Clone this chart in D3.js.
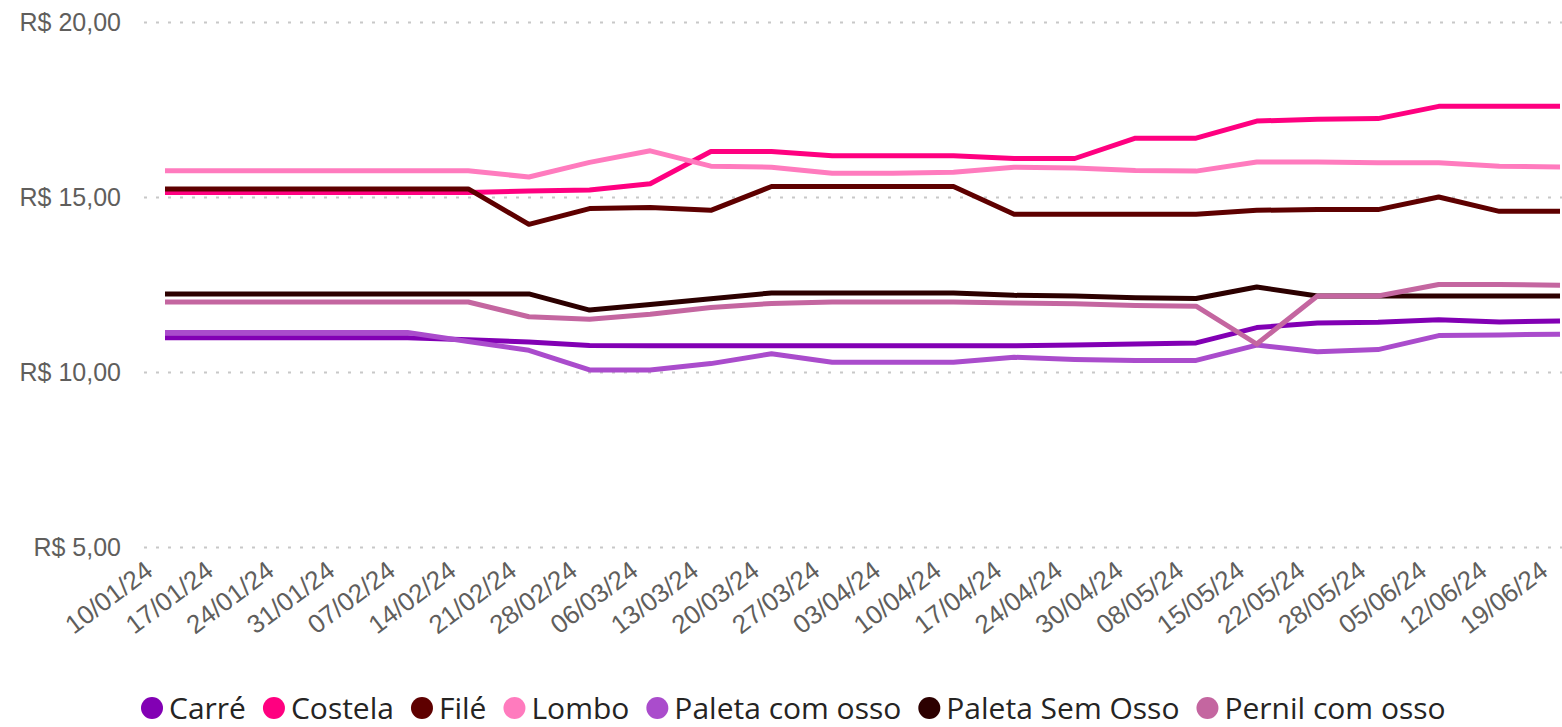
<!DOCTYPE html>
<html>
<head>
 <meta charset="UTF-8">
 <title>Preços por corte</title>
 <script src="https://cdn.jsdelivr.net/npm/d3@7"></script>
 <style>
body {
  margin: 0;
  background: #fff;
}
svg {
  display: block;
  font-family: "Open Sans", sans-serif;
}
.grid line {
  stroke: #c8c8c8;
  stroke-width: 2px;
  stroke-dasharray: 3 9;
}
.yaxis text {
  fill: #605e5c;
  font-size: 25px;
}
.xaxis text {
  fill: #605e5c;
  font-size: 26px;
}
.serie {
  fill: none;
  stroke-width: 5px;
  stroke-linejoin: round;
}
.legend text {
  fill: #252423;
  font-size: 30px;
}
 </style>
</head>
<body>
<svg id="chart"></svg>
<script>
// datas (semanas)
var datas = ["10/01/24","17/01/24","24/01/24","31/01/24","07/02/24","14/02/24","21/02/24","28/02/24",
  "06/03/24","13/03/24","20/03/24","27/03/24","03/04/24","10/04/24","17/04/24","24/04/24",
  "30/04/24","08/05/24","15/05/24","22/05/24","28/05/24","05/06/24","12/06/24","19/06/24"];

var cortes = ["Carré", "Costela", "Filé", "Lombo", "Paleta com osso", "Paleta Sem Osso", "Pernil com osso"];
var cores = ["#8200b4", "#ff0080", "#5e0000", "#ff7bbe", "#aa4ccc", "#2c0000", "#c466a0"];

var carre = [10.98,10.98,10.98,10.98,10.98,10.92,10.86,10.76,10.75,10.75,10.75,10.75,10.75,10.75,10.75,10.77,10.80,10.83,11.27,11.40,11.42,11.49,11.43,11.46];
var costela = [15.13,15.13,15.13,15.13,15.13,15.13,15.17,15.20,15.38,16.30,16.30,16.18,16.18,16.18,16.10,16.10,16.68,16.68,17.17,17.22,17.24,17.59,17.59,17.59];
var file = [15.23,15.23,15.23,15.23,15.23,15.23,14.22,14.67,14.70,14.62,15.30,15.30,15.30,15.30,14.51,14.51,14.51,14.51,14.62,14.64,14.64,15.00,14.59,14.59];
var lombo = [15.75,15.75,15.75,15.75,15.75,15.75,15.57,15.99,16.32,15.88,15.85,15.68,15.68,15.71,15.85,15.83,15.76,15.74,16.00,16.00,15.98,15.98,15.88,15.86];
var paletaComOsso = [11.13,11.13,11.13,11.13,11.13,10.87,10.62,10.06,10.06,10.24,10.52,10.28,10.28,10.28,10.42,10.36,10.33,10.33,10.77,10.58,10.64,11.04,11.06,11.08];
var paletaSemOsso = [12.23,12.23,12.23,12.23,12.23,12.23,12.23,11.77,11.93,12.09,12.26,12.26,12.26,12.26,12.19,12.17,12.12,12.10,12.43,12.17,12.17,12.17,12.17,12.17];
var pernil = [12.00,12.00,12.00,12.00,12.00,12.00,11.58,11.51,11.65,11.84,11.96,12.00,12.00,12.00,11.97,11.95,11.90,11.88,10.80,12.17,12.17,12.50,12.50,12.48];

var yTicks = [5, 10, 15, 20];

var series = [carre, costela, file, lombo, paletaComOsso, paletaSemOsso, pernil];

var width = 1562,
  height = 727,
  svg = d3.select("#chart")
    .attr("width", width)
    .attr("height", height),
  xscale = d3.scalePoint()
    .domain(datas)
    .range([165, 1560]),
  yscale = d3.scaleLinear()
    .domain([5, 20])
    .range([547, 22]);

function reais(v){
  return "R$ " + v.toFixed(2).replace(".", ",");
}

// eixo y + grade pontilhada
var yaxis = svg.append("g")
  .attr("class", "yaxis grid")
  .attr("transform", "translate(144,0)")
  .call(d3.axisLeft(yscale).tickValues(yTicks).tickFormat(reais)
    .tickSize(-(width - 144)).tickPadding(23));
yaxis.select(".domain").remove();
yaxis.selectAll("text").attr("dy", "0.35em");

// eixo x
var xaxis = svg.append("g")
  .attr("class", "xaxis")
  .attr("transform", "translate(0,560)")
  .call(d3.axisBottom(xscale).tickSize(0));
xaxis.select(".domain").remove();
xaxis.selectAll("text")
  .attr("y", 0)
  .attr("dy", 0)
  .attr("text-anchor", "end")
  .attr("transform", "translate(-11,14) rotate(-37)");

// linhas
var line = d3.line()
  .x(function(d, i){ return xscale(datas[i]); })
  .y(function(d){ return yscale(d); });

svg.selectAll(".serie")
  .data(series)
  .join("path")
  .attr("class", "serie")
  .attr("stroke", function(d, i){ return cores[i]; })
  .attr("d", line);

// legenda
var legend = svg.append("g")
  .attr("class", "legend")
  .attr("transform", "translate(0,708)");
var x0 = 141;
cortes.forEach(function(nome, i){
  var item = legend.append("g").attr("transform", "translate(" + x0 + ",0)");
  item.append("circle")
    .attr("cx", 11)
    .attr("r", 11)
    .attr("fill", cores[i]);
  var t = item.append("text")
    .attr("x", 28)
    .attr("dy", "0.35em")
    .text(nome);
  x0 += 28 + t.node().getComputedTextLength() + 17;
});
</script>
</body>
</html>
